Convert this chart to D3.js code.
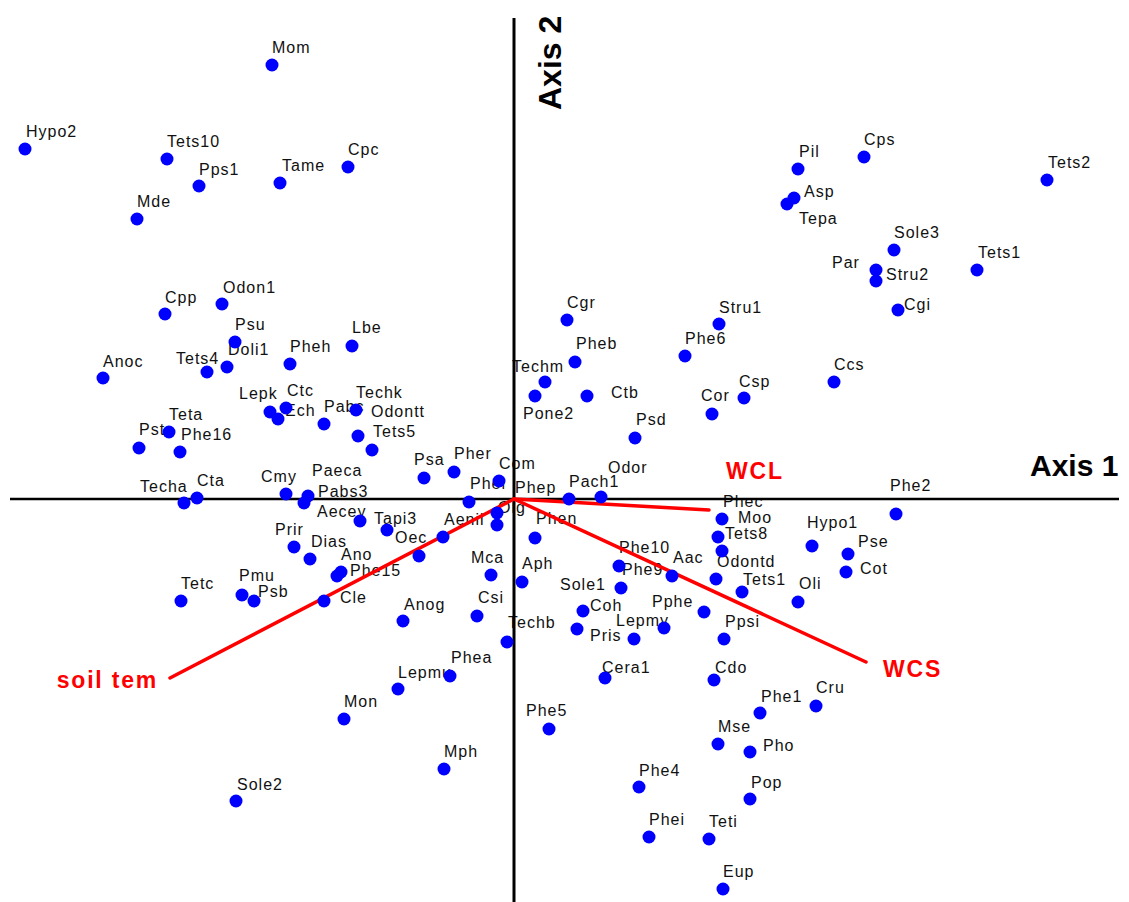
<!DOCTYPE html>
<html>
<head>
<meta charset="utf-8">
<script src="https://cdn.jsdelivr.net/npm/d3@7"></script>
<style>
  html, body { margin: 0; padding: 0; background: #fff; }
  svg { display: block; }
</style>
</head>
<body>
<svg id="chart" width="1129" height="902"></svg>
<script>
// Species scores on the first two ordination axes
const species = [
  "Mom","Hypo2","Tets10","Pps1","Tame","Cpc","Mde","Cpp","Odon1","Psu",
  "Doli1","Tets4","Anoc","Pheh","Lbe","Lepk","Ctc","Ech","Pabc","Techk",
  "Odontt","Tets5","Teta","Pst","Phe16","Psa","Pher","Com","Phel","Phep",
  "Olg","Tapi3","Techa","Cta","Cmy","Paeca","Pabs3","Aecey","Prir","Dias",
  "Ano","Phe15","Oec","Aenil","Mca","Pmu","Psb","Tetc","Cle","Anog",
  "Csi","Techb","Phea","Lepmu","Mon","Mph","Sole2","Cgr","Pheb","Techm",
  "Pone2","Ctb","Psd","Phe6","Stru1","Cor","Csp","Ccs","Pil","Cps",
  "Asp","Tepa","Tets2","Sole3","Par","Stru2","Tets1","Cgi","Pach1","Odor",
  "Phen","Phec","Moo","Tets8","Odontd","Hypo1","Pse","Cot","Phe2","Tets1",
  "Oli","Aac","Phe10","Phe9","Aph","Sole1","Coh","Pris","Lepmy","Pphe",
  "Ppsi","Cera1","Cdo","Phe1","Cru","Mse","Pho","Phe4","Pop","Phei",
  "Teti","Eup","Phe5"
];
const axis1 = [
  -2.42,-4.89,-3.47,-3.15,-2.34,-1.66,-3.77,-3.49,-2.92,-2.79,
  -2.87,-3.07,-4.11,-2.24,-1.62,-2.44,-2.28,-2.36,-1.90,-1.58,
  -1.56,-1.42,-3.45,-3.75,-3.34,-0.90,-0.60,-0.15,-0.45,-0.17,
  -0.17,-1.27,-3.30,-3.17,-2.28,-2.06,-2.10,-1.54,-2.20,-2.04,
  -1.73,-1.77,-0.95,-0.71,-0.23,-2.72,-2.60,-3.33,-1.90,-1.11,
  -0.37,-0.07,-0.64,-1.16,-1.70,-0.70,-2.78, 0.53, 0.61, 0.31,
   0.21, 0.73, 1.21, 1.71, 2.05, 1.98, 2.30, 3.20, 2.84, 3.50,
   2.80, 2.73, 5.33, 3.80, 3.62, 3.62, 4.63, 3.84, 0.55, 0.87,
   0.21, 2.08, 2.04, 2.08, 2.02, 2.98, 3.34, 3.32, 3.82, 2.28,
   2.84, 1.58, 1.05, 1.07, 0.08, 0.69, 0.63, 1.20, 1.50, 1.90,
   2.10, 0.91, 2.00, 2.46, 3.02, 2.04, 2.36, 1.25, 2.36, 1.35,
   1.95, 2.09, 0.35
];
const axis2 = [
   4.34, 3.50, 3.40, 3.13, 3.16, 3.32, 2.80, 1.85, 1.95, 1.57,
   1.32, 1.27, 1.21, 1.35, 1.53, 0.87, 0.91, 0.80, 0.75, 0.89,
   0.63, 0.49, 0.67, 0.51, 0.47, 0.21, 0.27, 0.18,-0.03,-0.14,
  -0.26,-0.31,-0.04, 0.01, 0.05, 0.03,-0.04,-0.22,-0.48,-0.60,
  -0.73,-0.77,-0.57,-0.38,-0.76,-0.96,-1.02,-1.02,-1.02,-1.22,
  -1.17,-1.43,-1.77,-1.90,-2.20,-2.70,-3.02, 1.79, 1.37, 1.17,
   1.03, 1.03, 0.61, 1.43, 1.75, 0.85, 1.01, 1.17, 3.30, 3.42,
   3.01, 2.95, 3.19, 2.49, 2.29, 2.18, 2.29, 1.89, 0.00, 0.02,
  -0.39,-0.20,-0.38,-0.52,-0.80,-0.47,-0.55,-0.73,-0.15,-0.93,
  -1.03,-0.77,-0.67,-0.89,-0.83,-1.12,-1.30,-1.40,-1.29,-1.13,
  -1.40,-1.79,-1.81,-2.14,-2.07,-2.45,-2.53,-2.88,-3.00,-3.38,
  -3.40,-3.90,-2.30
];

// Environmental variables (biplot vectors)
const envVars = ["WCL", "WCS", "soil tem"];
const envAxis1 = [1.95, 3.52, -3.44];
const envAxis2 = [-0.11, -1.63, -1.79];

const axisTitles = ["Axis 1", "Axis 2"];

// Label placement (pixels, relative to each point) to keep labels apart
const labelShift = [
  [0,-12],[1,-12],[0,-12],[0,-11],[2,-12],[0,-12],[0,-12],[0,-11],[1,-11],[0,-12],
  [1,-12],[-31,-8],[0,-11],[0,-12],[0,-13],[-31,-13],[1,-12],[7,-3],[0,-12],[0,-12],
  [13,-19],[1,-13],[0,-12],[0,-13],[1,-12],[-10,-13],[0,-13],[0,-12],[1,-13],[18,-20],
  [1,-12],[-13,-6],[-44,-11],[0,-12],[-25,-12],[4,-20],[14,-6],[-43,-4],[-19,-12],[1,-12],
  [0,-12],[13,0],[-24,-13],[1,-12],[-20,-12],[-3,-14],[4,-4],[0,-12],[16,2],[1,-11],
  [1,-13],[1,-14],[1,-13],[0,-11],[0,-12],[0,-12],[1,-11],[0,-12],[1,-13],[-33,-10],
  [-12,23],[24,2],[1,-13],[0,-12],[0,-11],[-11,-13],[-5,-11],[0,-12],[1,-12],[0,-12],
  [10,-1],[12,20],[1,-12],[0,-12],[-44,-2],[10,-1],[1,-12],[6,0],[0,-12],[7,-24],
  [1,-14],[1,-12],[20,-14],[3,-12],[1,-12],[-5,-18],[10,-7],[14,2],[-6,-23],[1,-7],
  [1,-13],[1,-13],[0,-13],[1,-13],[0,-13],[-23,-21],[13,-18],[-44,2],[-48,-2],[-52,-5],
  [1,-12],[-3,-5],[1,-7],[1,-11],[0,-13],[0,-12],[13,-1],[0,-11],[1,-11],[0,-12],
  [0,-12],[0,-12],[-23,-13]
];
const envLabelShift = [[17,-31],[17,15],[-12,10]];
const envLabelAnchor = ["start", "start", "end"];

const W = 1129, H = 902;
const svg = d3.select("#chart");
svg.append("rect").attr("width", W).attr("height", H).attr("fill", "#fff");

const x = d3.scaleLinear().domain([-5.14, 6.15]).range([0, W]);
const y = d3.scaleLinear().domain([-4.03, 4.99]).range([H, 0]);

const pts = species.map((name, i) => ({ name, a1: axis1[i], a2: axis2[i], shift: labelShift[i] }));

// species labels sit underneath the axes and points
svg.append("g")
  .attr("font-family", "'Liberation Sans', Arial, sans-serif")
  .attr("font-size", 16)
  .attr("letter-spacing", 1)
  .attr("fill", "#111")
  .selectAll("text")
  .data(pts)
  .join("text")
  .attr("x", d => x(d.a1) + d.shift[0])
  .attr("y", d => y(d.a2) + d.shift[1])
  .text(d => d.name);

// ordination axes through the origin
svg.append("line")
  .attr("x1", x(-5.04)).attr("x2", x(6.05))
  .attr("y1", y(0)).attr("y2", y(0))
  .attr("stroke", "#000").attr("stroke-width", 2.5);
svg.append("line")
  .attr("x1", x(0)).attr("x2", x(0))
  .attr("y1", y(4.81)).attr("y2", y(-4.03))
  .attr("stroke", "#000").attr("stroke-width", 3);

// environmental vectors
const env = envVars.map((name, i) => ({ name, a1: envAxis1[i], a2: envAxis2[i], shift: envLabelShift[i], anchor: envLabelAnchor[i] }));
svg.append("g")
  .selectAll("line")
  .data(env)
  .join("line")
  .attr("x1", x(0)).attr("y1", y(0))
  .attr("x2", d => x(d.a1)).attr("y2", d => y(d.a2))
  .attr("stroke", "#ff0000").attr("stroke-width", 3.5)
  .attr("stroke-linecap", "round");

// species points
svg.append("g")
  .selectAll("circle")
  .data(pts)
  .join("circle")
  .attr("cx", d => x(d.a1))
  .attr("cy", d => y(d.a2))
  .attr("r", 6.5)
  .attr("fill", "#0000ff");

// vector labels
svg.append("g")
  .attr("font-family", "'Liberation Sans', Arial, sans-serif")
  .attr("font-size", 23)
  .attr("font-weight", "bold")
  .attr("letter-spacing", 1.8)
  .attr("fill", "#ff0000")
  .selectAll("text")
  .data(env)
  .join("text")
  .attr("x", d => x(d.a1) + d.shift[0])
  .attr("y", d => y(d.a2) + d.shift[1])
  .attr("text-anchor", d => d.anchor)
  .text(d => d.name);

// axis titles
svg.append("text")
  .attr("x", 1030).attr("y", 476)
  .attr("font-family", "'Liberation Sans', Arial, sans-serif")
  .attr("font-size", 30).attr("font-weight", "bold")
  .attr("fill", "#000")
  .text(axisTitles[0]);
svg.append("text")
  .attr("transform", "translate(561,110) rotate(-90)")
  .attr("font-family", "'Liberation Sans', Arial, sans-serif")
  .attr("font-size", 32).attr("font-weight", "bold")
  .attr("fill", "#000")
  .text(axisTitles[1]);
</script>
</body>
</html>
